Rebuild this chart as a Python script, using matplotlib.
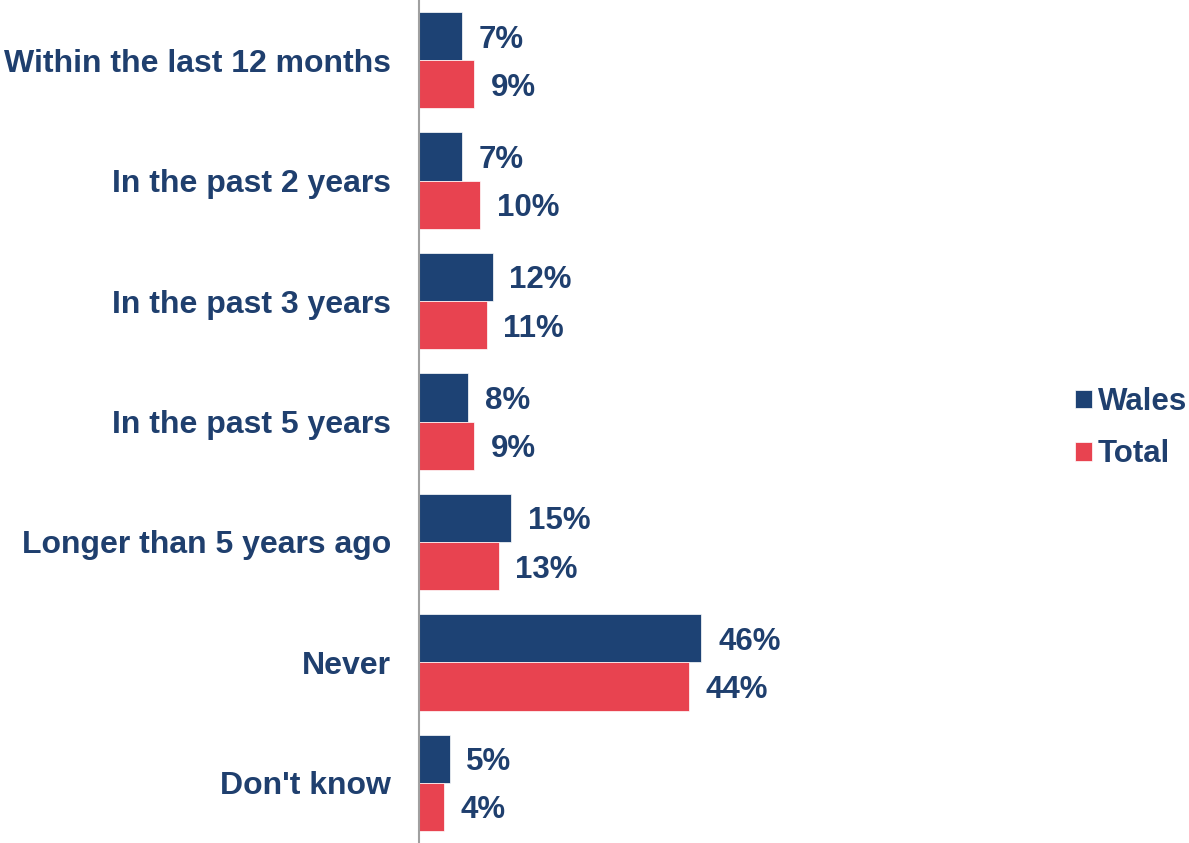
import matplotlib
matplotlib.use("Agg")
import matplotlib.pyplot as plt
import numpy as np

categories = ["Within the last 12 months", "In the past 2 years", "In the past 3 years",
              "In the past 5 years", "Longer than 5 years ago", "Never", "Don't know"]
wales = [7, 7, 12, 8, 15, 46, 5]
total = [9, 10, 11, 9, 13, 44, 4]
series_names = ["Wales", "Total"]

NAVY = "#1D4274"
RED = "#E84350"
TEXT = "#1F3F6E"

plt.rcParams['font.family'] = ['Liberation Sans', 'DejaVu Sans']

W, H = 1189, 843
fig = plt.figure(figsize=(W / 100, H / 100), dpi=100)
ax = fig.add_axes([419 / W, 0, 614 / W, 1])

y = np.arange(len(categories))
h = 0.4
ax.barh(y - h / 2, wales, height=h, color=NAVY, edgecolor="white", linewidth=0.5, label=series_names[0])
ax.barh(y + h / 2, total, height=h, color=RED, edgecolor="white", linewidth=0.5, label=series_names[1])

FS = 22.5
for yi, v in zip(y, wales):
    ax.text(v + 2.7, yi - h / 2, f"{v}%", va="center_baseline", ha="left", fontsize=FS,
            fontweight="bold", color=TEXT)
for yi, v in zip(y, total):
    ax.text(v + 2.7, yi + h / 2, f"{v}%", va="center_baseline", ha="left", fontsize=FS,
            fontweight="bold", color=TEXT)

ax.set_xlim(0, 100)
ax.set_ylim(len(categories) - 0.5, -0.5)
ax.set_yticks(y)
ax.set_yticklabels(categories, fontsize=23, fontweight="bold", color=TEXT)
ax.tick_params(axis="y", length=0, pad=20)
ax.set_xticks([])
for s in ["top", "right", "bottom"]:
    ax.spines[s].set_visible(False)
ax.spines["left"].set_color("#A0A0A0")
ax.spines["left"].set_linewidth(1.5)

leg = fig.legend(loc="center left", bbox_to_anchor=(1075 / W, 0.492), frameon=False,
                 handlelength=0.53, handleheight=0.53, handletextpad=0.2, borderpad=0,
                 borderaxespad=0, labelspacing=0.72, prop={"weight": "bold", "size": 22.5})
for t in leg.get_texts():
    t.set_color(TEXT)

fig.savefig("out.png", dpi=100)
